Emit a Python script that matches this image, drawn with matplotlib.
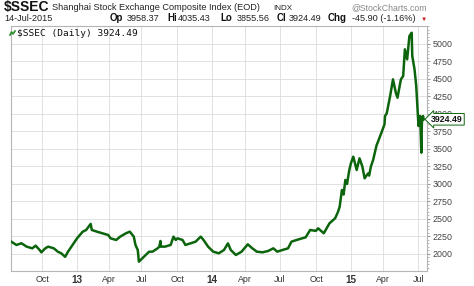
import matplotlib
matplotlib.use('Agg')
import matplotlib.pyplot as plt
from matplotlib.lines import Line2D
import numpy as np
import pandas as pd

plt.rcParams['font.family'] = ['Liberation Sans', 'DejaVu Sans']

# --- data (close values) ---
dates = [
    '2012-07-16', '2012-07-27', '2012-08-09', '2012-08-22', '2012-09-05', '2012-09-13',
    '2012-09-24', '2012-09-27', '2012-10-15', '2012-10-22', '2012-11-05', '2012-11-14',
    '2012-11-22', '2012-12-03', '2012-12-10', '2012-12-24', '2013-01-04', '2013-01-18',
    '2013-01-28', '2013-02-07', '2013-02-18', '2013-03-01', '2013-03-15', '2013-03-29',
    '2013-04-08', '2013-04-22', '2013-05-06', '2013-05-20', '2013-05-29', '2013-06-07',
    '2013-06-17', '2013-06-21', '2013-06-25', '2013-07-08', '2013-07-19', '2013-07-29',
    '2013-08-09', '2013-08-14', '2013-08-16', '2013-08-19', '2013-08-28', '2013-09-11',
    '2013-09-18', '2013-09-26', '2013-10-08', '2013-10-21', '2013-10-28', '2013-11-08',
    '2013-11-21', '2013-12-04', '2013-12-11', '2013-12-23', '2014-01-06', '2014-01-20',
    '2014-02-07', '2014-02-18', '2014-02-25', '2014-03-10', '2014-03-24', '2014-04-09',
    '2014-04-21', '2014-05-05', '2014-05-19', '2014-06-03', '2014-06-16', '2014-06-25',
    '2014-07-08', '2014-07-22', '2014-07-30', '2014-08-12', '2014-08-26', '2014-09-03',
    '2014-09-16', '2014-09-30', '2014-10-13', '2014-10-27', '2014-11-10', '2014-11-24',
    '2014-12-01', '2014-12-04', '2014-12-10', '2014-12-15', '2014-12-18', '2014-12-23',
    '2014-12-29', '2015-01-05', '2015-01-09', '2015-01-19', '2015-01-26', '2015-02-02',
    '2015-02-06', '2015-02-16', '2015-02-25', '2015-03-02', '2015-03-06', '2015-03-16',
    '2015-03-24', '2015-04-03', '2015-04-07', '2015-04-10', '2015-04-20', '2015-04-27',
    '2015-05-05', '2015-05-08', '2015-05-18', '2015-05-22', '2015-05-27', '2015-06-02',
    '2015-06-08', '2015-06-12', '2015-06-15', '2015-06-19', '2015-06-25', '2015-06-26',
    '2015-07-01', '2015-07-06', '2015-07-08', '2015-07-09', '2015-07-13', '2015-07-14',
]
closes = [
    2176, 2129, 2153, 2105, 2081, 2119,
    2057, 2024, 2081, 2105, 2081, 2033,
    2010, 1960, 2033, 2152, 2224, 2319,
    2343, 2430, 2343, 2319, 2295, 2271,
    2224, 2200, 2248, 2295, 2319, 2248,
    2129, 2057, 1890, 1962, 2033, 2033,
    2081, 2105, 2186, 2105, 2105, 2129,
    2248, 2200, 2224, 2200, 2129, 2152,
    2176, 2248, 2200, 2105, 2033, 2010,
    2057, 2152, 2057, 1986, 2033, 2138,
    2081, 2033, 2024, 2043, 2081, 2033,
    2057, 2081, 2176, 2200, 2224, 2238,
    2343, 2330, 2367, 2296, 2438, 2510,
    2600, 2676, 2914, 2850, 3057, 3000,
    3200, 3300, 3390, 3200, 3367, 3250,
    3081, 3150, 3120, 3247, 3343, 3550,
    3676, 3850, 3971, 4010, 4257, 4495,
    4305, 4233, 4495, 4543, 4924, 4781,
    5114, 5161, 4829, 4638, 4400, 4257,
    3829, 3971, 3447, 3876, 3971, 3924.49,
]

y_ticks = [2000, 2250, 2500, 2750, 3000, 3250, 3500, 3750, 4000,
           4250, 4500, 4750, 5000]
tick_months = ['2012-10', '2013-01', '2013-04', '2013-07', '2013-10', '2014-01',
               '2014-04', '2014-07', '2014-10', '2015-01', '2015-04', '2015-07']
tick_labels = ['Oct', '13', 'Apr', 'Jul', 'Oct', '14', 'Apr', 'Jul', 'Oct', '15', 'Apr', 'Jul']

# exchange closures (weekdays), chart axis is in trading days
holidays = (
    list(pd.date_range('2012-10-01', '2012-10-05'))
    + list(pd.to_datetime(['2013-01-01', '2013-01-02', '2013-01-03']))
    + list(pd.date_range('2013-02-11', '2013-02-15'))
    + list(pd.to_datetime(['2013-04-04', '2013-04-05', '2013-04-29', '2013-04-30',
                           '2013-05-01', '2013-06-10', '2013-06-11', '2013-06-12',
                           '2013-09-19', '2013-09-20']))
    + list(pd.date_range('2013-10-01', '2013-10-07'))
    + list(pd.to_datetime(['2014-01-01', '2014-01-31']))
    + list(pd.date_range('2014-02-03', '2014-02-06'))
    + list(pd.to_datetime(['2014-04-07', '2014-05-01', '2014-05-02', '2014-06-02',
                           '2014-09-08']))
    + list(pd.date_range('2014-10-01', '2014-10-07'))
    + list(pd.to_datetime(['2015-01-01', '2015-01-02']))
    + list(pd.date_range('2015-02-18', '2015-02-24'))
    + list(pd.to_datetime(['2015-04-06', '2015-05-01', '2015-06-22']))
)

tdays = pd.bdate_range('2012-07-16', '2015-07-14')
tdays = tdays[~tdays.isin(pd.DatetimeIndex(holidays))]
n = len(tdays)

xs = np.searchsorted(tdays.values, pd.to_datetime(dates).values)
tick_pos = np.searchsorted(tdays.values, pd.to_datetime(tick_months).values)

# ==========================================
# figure
# ==========================================
W, H = 474, 286
fig = plt.figure(figsize=(W / 100, H / 100), dpi=100)
ax = fig.add_axes([11 / W, 1 - 271 / H, 416 / W, 245 / H])

GREEN = '#0c650c'
ax.plot(xs, closes, color=GREEN, lw=1.8, solid_joinstyle='round', zorder=3)

ax.set_xlim(-0.5, n + 5)
ax.set_ylim(1757, 5257)

ax.set_xticks(tick_pos)
ax.set_xticklabels(tick_labels)
for lab, txt in zip(ax.get_xticklabels(), tick_labels):
    if txt.isdigit():
        lab.set_fontweight('bold')
        lab.set_fontsize(7.2)
    else:
        lab.set_fontsize(6.4)
    lab.set_color('#333333')

ax.yaxis.tick_right()
ax.set_yticks(y_ticks)
ax.set_yticklabels([str(v) for v in y_ticks], fontsize=6.4, color='#444444')
ax.set_yticks(np.arange(1800, 5251, 50), minor=True)
ax.tick_params(axis='y', which='major', length=2, color='#999999', pad=2)
ax.tick_params(axis='y', which='minor', length=1.2, color='#aaaaaa')
ax.tick_params(axis='x', length=0, pad=3)

ax.grid(True, which='major', color='#dcdcdc', lw=0.6)
ax.set_axisbelow(True)
for s in ax.spines.values():
    s.set_color('#b5b5b5')
    s.set_linewidth(0.8)

# last price box on the right
ax.annotate('3924.49', xy=(1.0, 3924.49), xycoords=('axes fraction', 'data'),
            xytext=(3, 0), textcoords='offset points', va='center', ha='left',
            fontsize=6.3, fontweight='bold', color='#111111', annotation_clip=False,
            bbox=dict(boxstyle='larrow,pad=0.15', fc='white', ec=GREEN, lw=0.7),
            zorder=5)

# ==========================================
# header texts
# ==========================================
def ftxt(x, y, s, **kw):
    fig.text(x / W, 1 - y / H, s, va='baseline', **kw)

ftxt(4, 11, '$SSEC', fontsize=10, fontweight='bold', color='#111111')
ftxt(52, 10.5, 'Shanghai Stock Exchange Composite Index (EOD)', fontsize=6.6, color='#222222')
ftxt(273, 10.5, 'INDX', fontsize=5.8, color='#222222')
ftxt(427, 10.5, '@StockCharts.com', fontsize=6.3, color='#888888', ha='right')

ftxt(4, 21, '14-Jul-2015', fontsize=6.6, color='#222222')
pairs = [(110, 'Op', 127, '3958.37'), (167, 'Hi', 178, '4035.43'),
         (220, 'Lo', 237, '3855.56'), (277, 'Cl', 289, '3924.49'),
         (328, 'Chg', 352, '-45.90 (-1.16%)')]
for lx, lab, vx, val in pairs:
    ftxt(lx, 21, lab, fontsize=7, fontweight='bold', color='#111111')
    ftxt(vx, 21, val, fontsize=6.6, color='#222222')
ftxt(423.5, 20.5, '\u25BC', fontsize=4.5, color='#cc1111', ha='center')

# legend line inside the plot
fig.add_artist(Line2D([10 / W, 11.5 / W, 13 / W, 15 / W], [1 - 35 / H, 1 - 32 / H, 1 - 34 / H, 1 - 31 / H],
                      color='#2f8f2f', lw=1.2))
ftxt(17, 35.5, '$SSEC (Daily) 3924.49', fontsize=6.8, color='#111111',
     family=['DejaVu Sans Mono'])

fig.savefig('out.png', dpi=100)
